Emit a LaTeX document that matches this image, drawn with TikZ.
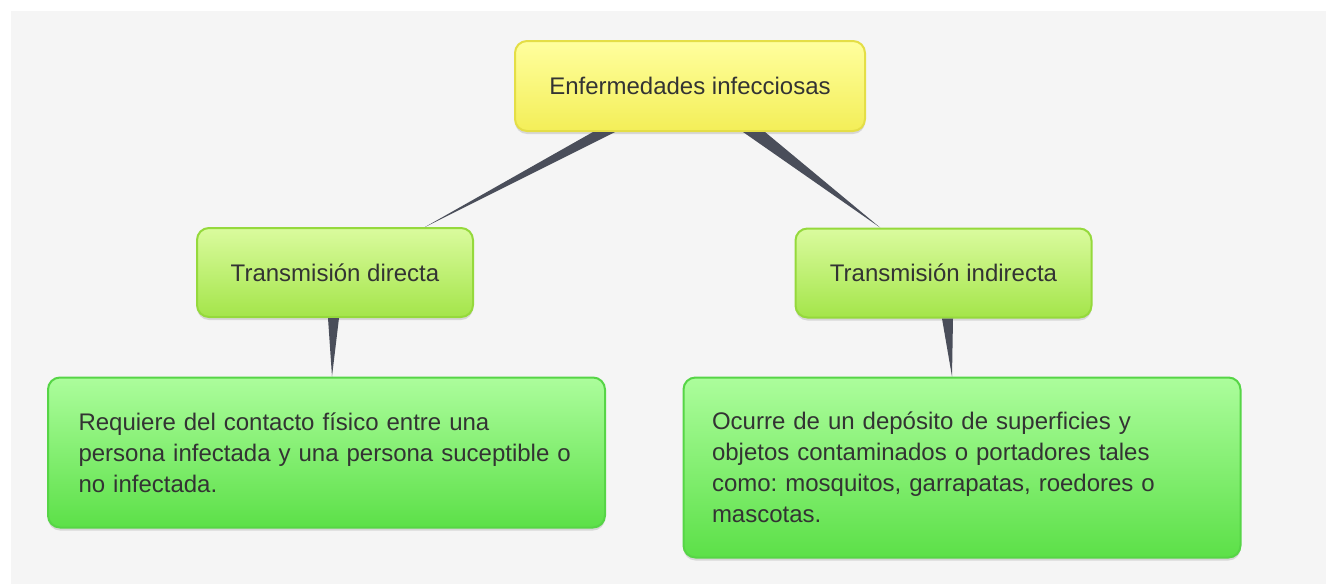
\documentclass[tikz,border=0pt]{standalone}
\usepackage{fontspec}
\setmainfont{Liberation Sans}
\usetikzlibrary{calc,shadows}
\frenchspacing
\definecolor{bggray}{HTML}{F5F5F5}
\definecolor{textgray}{HTML}{333333}
\definecolor{linkgray}{HTML}{4A4E5A}
\definecolor{yeltop}{HTML}{FFFF9E}
\definecolor{yelbot}{HTML}{F3EE58}
\definecolor{yelline}{HTML}{E4DE46}
\definecolor{limetop}{HTML}{DAFB9E}
\definecolor{limebot}{HTML}{A4E54A}
\definecolor{limeline}{HTML}{95D93C}
\definecolor{greentop}{HTML}{ACFD9C}
\definecolor{greenbot}{HTML}{5CE048}
\definecolor{greenline}{HTML}{56D546}
\begin{document}
\begin{tikzpicture}[x=0.5pt,y=-0.5pt]
        \tikzstyle{box}=[rectangle,rounded corners=6pt,line width=1pt,text=textgray,font=\fontsize{12}{15.5}\selectfont,drop shadow={shadow xshift=0pt,shadow yshift=-1.5pt,opacity=0.25}]
        \tikzstyle{topic}=[box,draw=yelline,top color=yeltop,bottom color=yelbot,minimum width=175pt,minimum height=45pt]
        \tikzstyle{mode}=[box,draw=limeline,top color=limetop,bottom color=limebot,minimum height=44.5pt]
        \tikzstyle{detail}=[box,draw=greenline,top color=greentop,bottom color=greenbot,align=left,minimum width=278.5pt]
        \tikzstyle{link}=[fill=linkgray]
        \useasboundingbox (0,0) rectangle (1329,584);
        \fill[bggray] (11,11) rectangle (1326,584);
       \begin{scope}
         \node [topic] (enf) at (690,86) {Enfermedades infecciosas};
         \node [mode,minimum width=138pt] (dir) at (335,272.5) {Transmisión directa};
         \node [mode,minimum width=148pt] (ind) at (943.5,273) {Transmisión indirecta};
         \node [detail,text width=248pt,minimum height=75pt] (ddir) at (326.5,452.5) {Requiere del contacto físico entre una\\persona infectada y una persona suceptible o\\no infectada.};
         \node [detail,text width=250pt,minimum height=90pt] (dind) at (962,467.5) {Ocurre de un depósito de superficies y\\objetos contaminados o portadores tales\\como: mosquitos, garrapatas, roedores o\\mascotas.};
         \fill[link] ($(enf.south)+(-97,0)$) -- ($(enf.south)+(-75,0)$) -- ($(dir.north)+(90,0)$) -- cycle;
         \fill[link] ($(enf.south)+(53,0)$) -- ($(enf.south)+(75,0)$) -- ($(ind.north)+(-63.5,0)$) -- cycle;
         \fill[link] ($(dir.south)+(-7,0)$) -- ($(dir.south)+(4,0)$) -- ($(ddir.north)+(5.5,0)$) -- cycle;
         \fill[link] ($(ind.south)+(-1.5,0)$) -- ($(ind.south)+(9.5,0)$) -- ($(dind.north)+(-10,0)$) -- cycle;
        \end{scope}
      \end{tikzpicture}
\end{document}
